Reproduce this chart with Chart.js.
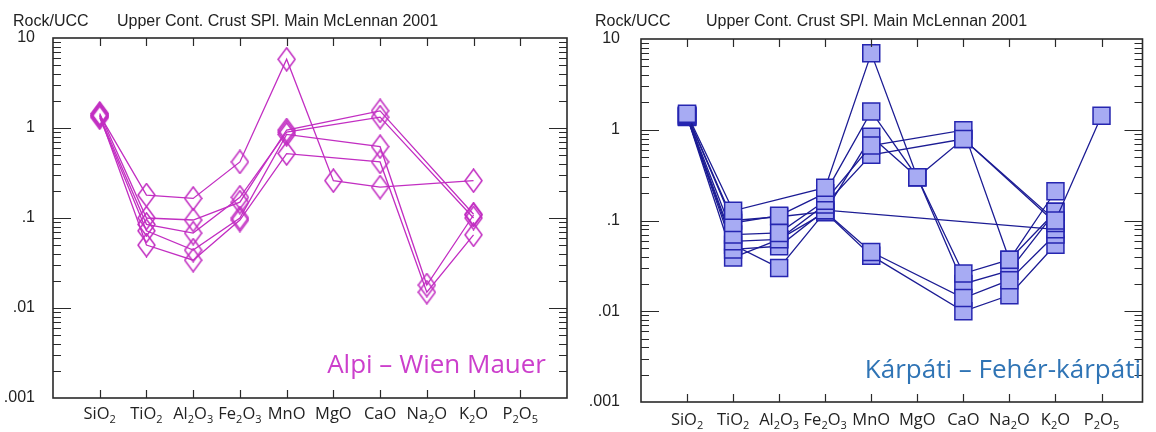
<!DOCTYPE html>
<html lang="hu">
<head>
    <meta charset="UTF-8">
    <title>Rock/UCC – Upper Cont. Crust</title>
    <script src="https://cdn.jsdelivr.net/npm/chart.js"></script>
    <style>
        body { margin: 0; background: #fff; }
        .wrap { position: relative; width: 1156px; height: 432px; }
        #leftBox { position: absolute; left: 0; top: 0; width: 580px; height: 432px; }
        #rightBox { position: absolute; left: 580px; top: 0; width: 576px; height: 432px; }
    </style>
</head>
<body>
<div class="wrap">
    <div id="leftBox"><canvas id="alpiChart" width="580" height="432"></canvas></div>
    <div id="rightBox"><canvas id="karpatiChart" width="576" height="432"></canvas></div>
</div>

<script>
    // oxides on the x axis, "_n" = subscript
    const oxides = ['SiO_2', 'TiO_2', 'Al_2O_3', 'Fe_2O_3', 'MnO', 'MgO', 'CaO', 'Na_2O', 'K_2O', 'P_2O_5'];
    const yTicks = [10, 1, 0.1, 0.01, 0.001];
    const yTickLabels = ['10', '1', '.1', '.01', '.001'];

    // Alpi - Wien Mauer (rock / UCC)
    const alpi1 = [1.4, 0.18, 0.165, 0.42, 5.8, 0.26, 0.22, null, 0.26, null];
    const alpi2 = [1.45, 0.1, 0.095, 0.15, 0.95, null, 1.55, null, 0.11, null];
    const alpi3 = [1.35, 0.085, 0.068, 0.17, 0.9, null, 1.32, null, 0.1, null];
    const alpi4 = [1.3, 0.072, 0.044, 0.1, 0.85, null, 0.62, 0.018, 0.108, null];
    const alpi5 = [1.38, 0.05, 0.034, 0.095, 0.52, null, 0.42, 0.015, 0.065, null];

    // Kárpáti - Fehér-kárpáti (rock / UCC)
    const karp1 = [1.5, 0.128, null, 0.23, 6.95, 0.3, 0.026, 0.037, 0.21, null];
    const karp2 = [1.45, 0.094, 0.113, 0.2, 1.59, 0.3, 0.79, null, 0.1, 1.43];
    const karp3 = [1.42, 0.07, 0.073, 0.165, 0.67, null, 0.99, 0.037, 0.125, null];
    const karp4 = [1.4, 0.059, 0.062, 0.15, 0.53, null, 0.79, null, 0.094, null];
    const karp5 = [1.4, 0.048, 0.052, 0.13, null, null, null, null, 0.08, null];
    const karp6 = [1.38, 0.054, 0.03, 0.125, 0.045, null, 0.014, 0.022, 0.07, null];
    const karp7 = [1.4, 0.039, 0.062, 0.123, 0.041, null, 0.01, 0.015, 0.054, null];
    const karp8 = [1.45, 0.1, 0.11, 0.125, 0.84, 0.3, 0.02, 0.028, 0.125, null];

    function toPoints(arr) {
        return arr.map((v, i) => ({ x: i, y: v })).filter(p => p.y !== null);
    }

    // hollow diamond, a bit taller than wide like in the original plot
    function diamond(w, h, color) {
        const c = document.createElement('canvas');
        c.width = w + 2; c.height = h + 2;
        const g = c.getContext('2d');
        g.strokeStyle = color;
        g.lineWidth = 1.5;
        g.beginPath();
        g.moveTo(c.width / 2, 1);
        g.lineTo(c.width - 1, c.height / 2);
        g.lineTo(c.width / 2, c.height - 1);
        g.lineTo(1, c.height / 2);
        g.closePath();
        g.stroke();
        return c;
    }

    function drawOxide(ctx, label, cx, baseY) {
        const parts = label.split(/(_\d)/).filter(Boolean);
        const main = '16.5px "Open Sans"', sub = '11px "Open Sans"';
        let total = 0;
        parts.forEach(p => {
            ctx.font = p[0] === '_' ? sub : main;
            total += ctx.measureText(p[0] === '_' ? p.slice(1) : p).width;
        });
        let x = cx - total / 2;
        parts.forEach(p => {
            const isSub = p[0] === '_';
            const t = isSub ? p.slice(1) : p;
            ctx.font = isSub ? sub : main;
            ctx.fillText(t, x, isSub ? baseY + 4 : baseY);
            x += ctx.measureText(t).width;
        });
    }

    // frame, inward ticks, oxide labels, header and sample name
    const panelDecor = {
        id: 'panelDecor',
        afterDraw(chart, args, opts) {
            const ctx = chart.ctx;
            const a = chart.chartArea;
            const x = chart.scales.x, y = chart.scales.y;
            ctx.save();
            ctx.strokeStyle = '#2a2a2a';
            ctx.lineWidth = 1.2;
            ctx.beginPath();
            for (let i = 0; i < oxides.length; i++) {
                const px = Math.round(x.getPixelForValue(i)) + 0.5;
                ctx.moveTo(px, a.top); ctx.lineTo(px, a.top + 8);
                ctx.moveTo(px, a.bottom); ctx.lineTo(px, a.bottom - 8);
            }
            for (let d = -3; d <= 0; d++) {
                for (let m = 1; m <= 9; m++) {
                    if (d === -3 && m === 1) continue;
                    const py = Math.round(y.getPixelForValue(m * Math.pow(10, d))) + 0.5;
                    const len = m === 1 ? 18 : 8;
                    ctx.moveTo(a.left, py); ctx.lineTo(a.left + len, py);
                    ctx.moveTo(a.right, py); ctx.lineTo(a.right - len, py);
                }
            }
            ctx.stroke();
            ctx.lineWidth = 1.6;
            ctx.strokeRect(a.left, a.top, a.right - a.left, a.bottom - a.top);

            ctx.fillStyle = '#222';
            ctx.textAlign = 'left';
            ctx.textBaseline = 'alphabetic';
            oxides.forEach((o, i) => drawOxide(ctx, o, x.getPixelForValue(i), a.bottom + opts.labelGap));

            ctx.font = '16px "Liberation Sans"';
            ctx.fillText('Rock/UCC', opts.rockX, 26);
            ctx.fillText('Upper Cont. Crust SPl. Main McLennan 2001', opts.titleX, 26);

            ctx.font = '26px "Open Sans"';
            ctx.fillStyle = opts.nameColor;
            ctx.textAlign = 'right';
            ctx.fillText(opts.name, opts.nameX, opts.nameY);
            ctx.restore();
        }
    };

    function logAxis(width, pad) {
        return {
            type: 'logarithmic',
            min: 0.001,
            max: 10,
            afterBuildTicks: s => { s.ticks = yTicks.map(v => ({ value: v })); },
            afterFit: s => { s.width = width; },
            ticks: {
                padding: pad,
                color: '#222',
                font: { family: 'Liberation Sans', size: 16 },
                callback: v => yTickLabels[yTicks.indexOf(v)]
            },
            grid: { display: false },
            border: { display: false }
        };
    }

    const diamondImg = diamond(17, 23, '#c22ec2');

    const alpiSets = [alpi1, alpi2, alpi3, alpi4, alpi5].map((arr, k) => ({
        label: 'Alpi ' + (k + 1),
        data: toPoints(arr),
        borderColor: '#c22ec2',
        borderWidth: 1.3,
        pointStyle: diamondImg,
        pointRadius: 10,
        fill: false,
        spanGaps: true
    }));

    const karpSets = [karp1, karp2, karp3, karp4, karp5, karp6, karp7, karp8].map((arr, k) => ({
        label: 'Kárpáti ' + (k + 1),
        data: toPoints(arr),
        borderColor: '#1c1c94',
        borderWidth: 1.3,
        pointStyle: 'rect',
        pointRadius: 12,
        pointBackgroundColor: '#a7abf3',
        pointBorderColor: '#2626b0',
        pointBorderWidth: 1.5,
        fill: false,
        spanGaps: true
    }));

    new Chart(document.getElementById('alpiChart'), {
        type: 'line',
        data: { datasets: alpiSets },
        plugins: [panelDecor],
        options: {
            responsive: false,
            animation: false,
            devicePixelRatio: 1,
            layout: { padding: { left: 0, right: 13, top: 38, bottom: 34 } },
            scales: {
                x: { type: 'linear', min: -1, max: 10, display: false },
                y: logAxis(53, 10)
            },
            plugins: {
                legend: { display: false },
                tooltip: { enabled: false },
                panelDecor: {
                    labelGap: 21, rockX: 13, titleX: 117,
                    name: 'Alpi – Wien Mauer', nameColor: '#cc3fcc', nameX: 546, nameY: 373
                }
            }
        }
    });

    new Chart(document.getElementById('karpatiChart'), {
        type: 'line',
        data: { datasets: karpSets },
        plugins: [panelDecor],
        options: {
            responsive: false,
            animation: false,
            devicePixelRatio: 1,
            layout: { padding: { left: 0, right: 2, top: 39, bottom: 30 } },
            scales: {
                x: { type: 'linear', min: -1, max: 9.89, display: false },
                y: logAxis(61, 13)
            },
            plugins: {
                legend: { display: false },
                tooltip: { enabled: false },
                panelDecor: {
                    labelGap: 23, rockX: 15, titleX: 126,
                    name: 'Kárpáti – Fehér-kárpáti', nameColor: '#2f74b5', nameX: 561, nameY: 378
                }
            }
        }
    });
</script>
</body>
</html>
